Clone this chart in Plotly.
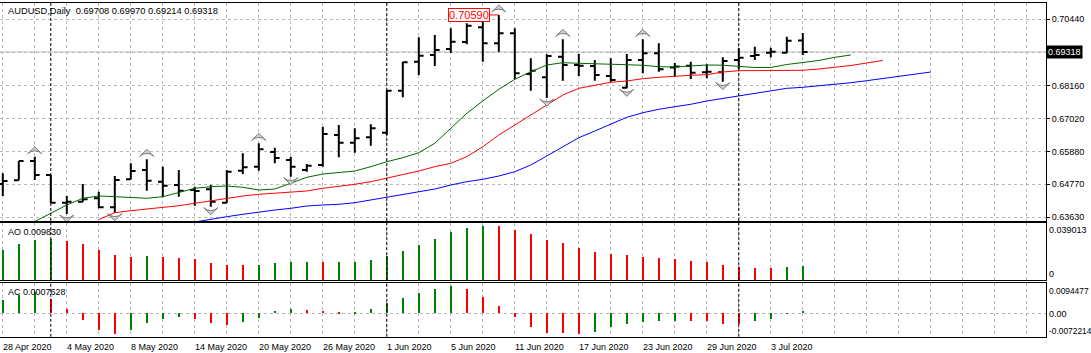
import plotly.graph_objects as go
import pandas as pd

# ---------------- data ----------------
dates = pd.bdate_range("2020-04-28", "2020-07-07")

opens = [0.64774, 0.64902, 0.65566, 0.65084, 0.64131, 0.64166, 0.64283, 0.63973, 0.64936, 0.65256,
         0.64854, 0.64740, 0.64568, 0.64592, 0.64131, 0.65232, 0.65370, 0.65875, 0.65600, 0.65256,
         0.65428, 0.66460, 0.66195, 0.66381, 0.66539, 0.67984, 0.68982, 0.69212, 0.69418, 0.69659,
         0.70165, 0.69614, 0.69958, 0.68558, 0.68445, 0.69154, 0.68868, 0.68834, 0.68490, 0.68087,
         0.69040, 0.69270, 0.68782, 0.68844, 0.68617, 0.68617, 0.69040, 0.69178, 0.69291, 0.69291,
         0.69708]
highs = [0.65142, 0.65566, 0.65714, 0.65090, 0.64362, 0.64774, 0.64510, 0.65050, 0.65487, 0.65624,
         0.65370, 0.65256, 0.64682, 0.64740, 0.65256, 0.65831, 0.66175, 0.66023, 0.65714, 0.65462,
         0.66746, 0.66804, 0.66691, 0.66828, 0.67990, 0.68982, 0.69821, 0.69900, 0.70131, 0.70302,
         0.70416, 0.70590, 0.70131, 0.69098, 0.69236, 0.69752, 0.69246, 0.69040, 0.69098, 0.69246,
         0.69752, 0.69614, 0.68937, 0.68982, 0.68892, 0.69133, 0.69442, 0.69498, 0.69463, 0.69842,
         0.69970]
lows = [0.64362, 0.64902, 0.64912, 0.64125, 0.63742, 0.64160, 0.63939, 0.63787, 0.64930, 0.64544,
        0.64317, 0.64338, 0.64028, 0.63994, 0.64125, 0.65118, 0.65232, 0.65487, 0.65026, 0.65198,
        0.65370, 0.65693, 0.65851, 0.66092, 0.66460, 0.67757, 0.68524, 0.68834, 0.69291, 0.69580,
        0.68982, 0.69326, 0.68376, 0.67984, 0.67733, 0.68328, 0.68490, 0.68328, 0.68294, 0.68066,
        0.68582, 0.68638, 0.68472, 0.68386, 0.68410, 0.68294, 0.68730, 0.69040, 0.69133, 0.69285,
        0.69214]
closes = [0.64878, 0.65566, 0.65084, 0.64131, 0.64166, 0.64248, 0.63973, 0.64912, 0.65222, 0.64888,
          0.64716, 0.64544, 0.64534, 0.64166, 0.65198, 0.65349, 0.65968, 0.65669, 0.65370, 0.65404,
          0.66494, 0.66195, 0.66347, 0.66691, 0.67984, 0.68961, 0.69188, 0.69384, 0.69670, 0.70220,
          0.69614, 0.69958, 0.68582, 0.68672, 0.69178, 0.68868, 0.68844, 0.68524, 0.68352, 0.69040,
          0.69270, 0.68720, 0.68816, 0.68603, 0.68638, 0.69006, 0.69119, 0.69212, 0.69326, 0.69704,
          0.69318]

# Alligator lines (already shifted forward), start bar index for each
lips_start = 2
lips = [0.63484, 0.63760, 0.64052, 0.64283, 0.64362, 0.64338, 0.64303, 0.64283, 0.64338, 0.64489,
        0.64627, 0.64682, 0.64706, 0.64661, 0.64568, 0.64602, 0.64799, 0.65005, 0.65118, 0.65177,
        0.65222, 0.65370, 0.65542, 0.65679, 0.65851, 0.66175, 0.66691, 0.67207, 0.67630, 0.68032,
        0.68376, 0.68638, 0.68868, 0.68947, 0.68927, 0.68902, 0.68878, 0.68878, 0.68858, 0.68810,
        0.68799, 0.68834, 0.68868, 0.68861, 0.68834, 0.68782, 0.68782, 0.68885, 0.68954, 0.69023,
        0.69133, 0.69212]
teeth_start = 6
teeth = [0.63553, 0.63787, 0.63856, 0.63914, 0.63959, 0.64028, 0.64110, 0.64200, 0.64283, 0.64362,
         0.64420, 0.64454, 0.64475, 0.64534, 0.64627, 0.64688, 0.64764, 0.64854, 0.64970, 0.65084,
         0.65222, 0.65370, 0.65487, 0.65714, 0.66058, 0.66460, 0.66804, 0.67148, 0.67492, 0.67836,
         0.68066, 0.68180, 0.68273, 0.68318, 0.68397, 0.68445, 0.68490, 0.68514, 0.68534, 0.68627,
         0.68672, 0.68672, 0.68672, 0.68672, 0.68686, 0.68730, 0.68782, 0.68851, 0.68937, 0.69023]
jaw_start = 12
jaw = [0.63467, 0.63570, 0.63650, 0.63732, 0.63811, 0.63880, 0.63939, 0.64018, 0.64052, 0.64076,
       0.64131, 0.64224, 0.64317, 0.64396, 0.64510, 0.64602, 0.64740, 0.64854, 0.64936, 0.65050,
       0.65198, 0.65428, 0.65738, 0.66058, 0.66367, 0.66598, 0.66838, 0.67069, 0.67227, 0.67344,
       0.67434, 0.67516, 0.67630, 0.67722, 0.67812, 0.67894, 0.67974, 0.68066, 0.68101, 0.68146,
       0.68197, 0.68259, 0.68328, 0.68397, 0.68466, 0.68548, 0.68627]

fractal_up = [2, 9, 16, 31, 35, 40]
fractal_down = [4, 7, 13, 18, 34, 39, 45]

ao = [0.02094, 0.02450, 0.02736, 0.02831, 0.02664, 0.02450, 0.02094, 0.01737, 0.01594, 0.01665,
      0.01594, 0.01522, 0.01451, 0.01166, 0.01023, 0.01015, 0.01030, 0.01166, 0.01237, 0.01240,
      0.01233, 0.01240, 0.01245, 0.01380, 0.01665, 0.02022, 0.02379, 0.02807, 0.03307, 0.03592,
      0.03687, 0.03680, 0.03450, 0.03164, 0.02741, 0.02526, 0.02169, 0.01954, 0.01811, 0.01740,
      0.01597, 0.01525, 0.01454, 0.01311, 0.01239, 0.01025, 0.00882, 0.00870, 0.00810, 0.00882,
      0.00983]
ac = [0.00429, 0.00558, 0.00676, 0.00451, 0.00129, -0.00193, -0.00515, -0.00644, -0.00515, -0.00290,
      -0.00172, -0.00097, -0.00161, -0.00290, -0.00354, -0.00257, -0.00129, 0.00064, 0.00129, 0.00097,
      0.00064, 0.00018, 0.00028, 0.00129, 0.00322, 0.00483, 0.00644, 0.00772, 0.00837, 0.00772,
      0.00515, 0.00225, -0.00097, -0.00418, -0.00600, -0.00613, -0.00645, -0.00580, -0.00419, -0.00322,
      -0.00258, -0.00226, -0.00220, -0.00226, -0.00232, -0.00322, -0.00330, -0.00226, -0.00161, -0.00010,
      0.00076]

price_ticks = [0.6363, 0.6477, 0.6588, 0.6702, 0.6816, 0.6930, 0.7044]
price_ticktext = ["0.63630", "0.64770", "0.65880", "0.67020", "0.68160", "", "0.70440"]
header = "AUDUSD,Daily\u00a0\u00a00.69708 0.69970 0.69214 0.69318"
ao_label = "AO 0.009830"
ac_label = "AC 0.0007628"
ao_scale = [0.0, 0.039013]
ac_scale = [-0.0072214, 0.0094477]
last_price = 0.69318
max_high_label = "0.70590"

# ---------------- layout geometry ----------------
W, H = 1091, 353
PLOT_W = 1046
BAR_PX = 16.0
x_left = -2.8 / BAR_PX
x_range = [x_left, x_left + PLOT_W / BAR_PX]

def dom(top_px, bot_px):
    return [1 - bot_px / H, 1 - top_px / H]

main_dom = dom(2.7, 221.0)
ao_dom = dom(222.8, 280.2)
ac_dom = dom(283.0, 336.8)
main_range = [0.63502, 0.71011]
px_per_price = (221.0 - 2.7) / (main_range[1] - main_range[0])

GREEN = "#008000"
RED = "#ff0000"
GRID = "#b8b8b8"
FONT = "Liberation Sans"

idx = list(range(len(opens)))

fig = go.Figure()

# bid line
fig.add_shape(type="line", xref="paper", x0=0, x1=1, yref="y", y0=last_price, y1=last_price,
              line=dict(color="#c0c0c0", width=1), layer="below")

fig.add_trace(go.Ohlc(x=idx, open=opens, high=highs, low=lows, close=closes,
                      increasing=dict(line=dict(color="black", width=2)),
                      decreasing=dict(line=dict(color="black", width=2)),
                      tickwidth=0.3, xaxis="x", yaxis="y", hoverinfo="skip"))

for start, vals, col in [(jaw_start, jaw, "#0000ff"), (teeth_start, teeth, "#ff0000"),
                         (lips_start, lips, "#006400")]:
    fig.add_trace(go.Scatter(x=list(range(start, start + len(vals))), y=vals, mode="lines",
                             line=dict(color=col, width=1), xaxis="x", yaxis="y", hoverinfo="skip"))

off_up = 10 / px_per_price
off_dn = 8 / px_per_price
fig.add_trace(go.Scatter(x=fractal_up, y=[highs[i] + off_up for i in fractal_up], mode="markers",
                         marker=dict(symbol="arrow-wide", angle=0, size=10, color="#cfcfcf",
                                     line=dict(color="#7a7a7a", width=1)),
                         xaxis="x", yaxis="y", hoverinfo="skip"))
fig.add_trace(go.Scatter(x=fractal_down, y=[lows[i] - off_dn for i in fractal_down], mode="markers",
                         marker=dict(symbol="arrow-wide", angle=180, size=10, color="#cfcfcf",
                                     line=dict(color="#7a7a7a", width=1)),
                         xaxis="x", yaxis="y", hoverinfo="skip"))

def colours(vals):
    out = []
    for i, v in enumerate(vals):
        out.append(GREEN if i == 0 or v > vals[i - 1] else RED)
    return out

fig.add_trace(go.Bar(x=idx, y=ao, marker=dict(color=colours(ao), line=dict(width=0)), width=0.14,
                     xaxis="x2", yaxis="y2", hoverinfo="skip"))
fig.add_trace(go.Bar(x=idx, y=ac, marker=dict(color=colours(ac), line=dict(width=0)), width=0.14,
                     xaxis="x3", yaxis="y3", hoverinfo="skip"))

common_x = dict(range=x_range, tick0=0, dtick=2, showgrid=True, gridcolor=GRID, griddash="3px,3px",
                gridwidth=1, showticklabels=False, ticks="", showline=True, mirror=True,
                linecolor="black", linewidth=1, zeroline=False, fixedrange=True)

fig.update_layout(
    width=W, height=H, margin=dict(l=0, r=W - PLOT_W, t=0, b=0),
    paper_bgcolor="white", plot_bgcolor="white", showlegend=False,
    font=dict(family=FONT, size=9, color="black"),
    xaxis=dict(domain=[0, 1], anchor="y", rangeslider=dict(visible=False), **common_x),
    xaxis2=dict(domain=[0, 1], anchor="y2", **common_x),
    xaxis3=dict(domain=[0, 1], anchor="y3", **common_x),
    yaxis=dict(domain=main_dom, anchor="x", range=main_range, side="right", tickvals=price_ticks,
               ticktext=price_ticktext, showgrid=True, gridcolor=GRID, griddash="3px,3px",
               ticks="outside", ticklen=3, tickcolor="black", showline=True, mirror=True,
               linecolor="black", zeroline=False, fixedrange=True),
    yaxis2=dict(domain=ao_dom, anchor="x2", range=ao_scale, side="right", showgrid=False,
                showticklabels=False, ticks="", showline=True, mirror=True, linecolor="black",
                zeroline=False, fixedrange=True),
    yaxis3=dict(domain=ac_dom, anchor="x3", range=ac_scale, side="right", tickvals=[0],
                showgrid=True, gridcolor=GRID, griddash="3px,3px", showticklabels=False, ticks="",
                showline=True, mirror=True, linecolor="black", zeroline=False, fixedrange=True),
    bargap=0,
)

# month separators
seps = [i for i in range(1, len(dates)) if dates[i].month != dates[i - 1].month]
for s in seps:
    for yr in ["y domain", "y2 domain", "y3 domain"]:
        fig.add_shape(type="line", xref="x", x0=s, x1=s, yref=yr, y0=0, y1=1,
                      line=dict(color="black", width=1, dash="3px,2px"))

ann = []
# date labels
for i in range(0, len(dates), 4):
    d = dates[i]
    ann.append(dict(xref="x3", yref="paper", x=i, y=1 - 347 / H, xanchor="left", yanchor="middle",
                    text=f"{d.day} {d.strftime('%b %Y')}", showarrow=False, xshift=-2,
                    font=dict(size=9)))
ann.append(dict(xref="paper", yref="paper", x=6 / PLOT_W, y=1 - 10.7 / H, xanchor="left",
                yanchor="middle", text=header, showarrow=False, font=dict(size=9.3)))
ann.append(dict(xref="paper", yref="paper", x=6 / PLOT_W, y=1 - 232 / H, xanchor="left",
                yanchor="middle", text=ao_label, showarrow=False, font=dict(size=9)))
ann.append(dict(xref="paper", yref="paper", x=6 / PLOT_W, y=1 - 292.3 / H, xanchor="left",
                yanchor="middle", text=ac_label, showarrow=False, font=dict(size=9)))
# subwindow scale labels
for txt, ypx, fs in [(f"{ao_scale[1]:.6f}", 230.4, 9), ("0", 274.0, 9),
                     (f"{ac_scale[1]:.7f}", 291.4, 8.4), ("0.00", 314.0, 9),
                     (f"{ac_scale[0]:.7f}", 331.4, 8.4)]:
    ann.append(dict(xref="paper", yref="paper", x=1, xshift=1, y=1 - ypx / H, xanchor="left",
                    yanchor="middle", text=txt, showarrow=False, font=dict(size=fs)))
# last price box
ann.append(dict(xref="paper", yref="y", x=1, xshift=0, y=last_price, xanchor="left", yanchor="middle",
                text=f"{last_price:.5f}", showarrow=False, bgcolor="black",
                font=dict(size=9, color="white"), borderpad=1))
# highest high label
imax = highs.index(max(highs))
ann.append(dict(xref="x", yref="y", x=imax, y=highs[imax], text=max_high_label, showarrow=True,
                arrowhead=0, arrowcolor=RED, arrowwidth=1, ax=-30, ay=0, standoff=0,
                bordercolor=RED, borderwidth=1, borderpad=0, bgcolor="white",
                font=dict(size=11, color=RED)))
fig.update_layout(annotations=ann)

fig.write_html("out.html")
